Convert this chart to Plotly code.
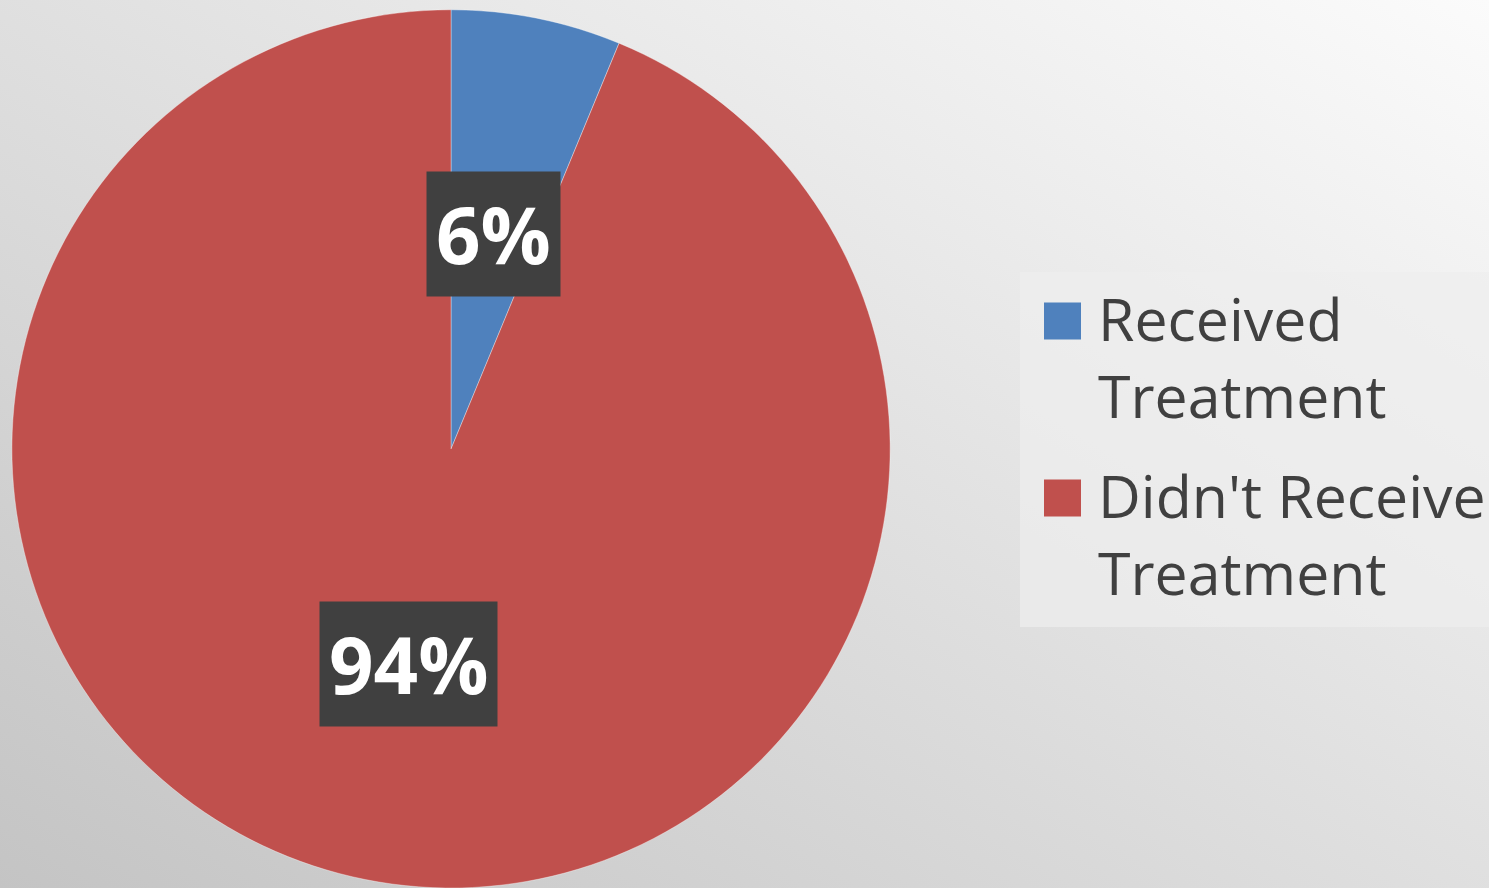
import math
import plotly.graph_objects as go

labels = ["Received<br>Treatment", "Didn't Receive<br>Treatment"]
values = [6.25, 93.75]
colors = ["#4F81BD", "#C0504D"]

W, H = 1489, 888
dom_x = [0.0074, 0.5984]
dom_y = [0.0, 0.989]

bg_svg = (
    "data:image/svg+xml;utf8,"
    "<svg xmlns='http://www.w3.org/2000/svg' width='100' height='100' preserveAspectRatio='none'>"
    "<defs><linearGradient id='g' x1='1' y1='0' x2='0' y2='1'>"
    "<stop offset='0' stop-color='%23fbfbfb'/><stop offset='1' stop-color='%23c4c4c4'/>"
    "</linearGradient></defs><rect width='100' height='100' fill='url(%23g)'/></svg>"
)

fig = go.Figure()
fig.add_trace(go.Pie(
    labels=labels, values=values, sort=False, direction="clockwise", rotation=0,
    marker=dict(colors=colors, line=dict(color="rgba(255,255,255,0.35)", width=1)),
    textinfo="none", hoverinfo="label+percent", showlegend=False,
    domain=dict(x=dom_x, y=dom_y),
))

# data labels placed at half radius along each slice's mid-angle
wpx = (dom_x[1] - dom_x[0]) * W
hpx = (dom_y[1] - dom_y[0]) * H
rpx = min(wpx, hpx) / 2
cxp = (dom_x[0] + dom_x[1]) / 2 * W
cyp = (dom_y[0] + dom_y[1]) / 2 * H
total = sum(values)
cum = 0
annotations = []
for v in values:
    mid = (cum + v / 2) / total * 2 * math.pi
    cum += v
    px = cxp + 0.5 * rpx * math.sin(mid)
    py = cyp + 0.5 * rpx * math.cos(mid)
    annotations.append(dict(
        x=px / W, y=py / H, xref="paper", yref="paper",
        xanchor="center", yanchor="middle",
        text="<b>%d%%</b>" % round(v / total * 100), showarrow=False,
        font=dict(family="Open Sans", size=78, color="white"),
        bgcolor="#404040", borderpad=9,
    ))

# legend (drawn manually for large swatches)
shapes = [dict(type="rect", xref="paper", yref="paper",
               x0=1020 / W, x1=1.0, y0=1 - 627 / H, y1=1 - 272 / H,
               fillcolor="rgba(238,238,238,0.7)", line=dict(width=0), layer="below")]
leg_top = 356
leg_step = 177
for i, (lab, col) in enumerate(zip(labels, colors)):
    yc = leg_top + i * leg_step
    sq_c = yc - 35
    shapes.append(dict(type="rect", xref="paper", yref="paper",
                       x0=1044 / W, x1=1081 / W,
                       y0=1 - (sq_c + 18.5) / H, y1=1 - (sq_c - 18.5) / H,
                       fillcolor=col, line=dict(width=0)))
    annotations.append(dict(
        x=1096 / W, y=1 - yc / H, xref="paper", yref="paper",
        xanchor="left", yanchor="middle", align="left", showarrow=False,
        text=lab, font=dict(family="Open Sans", size=59, color="#404040"),
    ))

fig.update_layout(
    width=W, height=H, margin=dict(l=0, r=0, t=0, b=0),
    paper_bgcolor="#e2e2e2", plot_bgcolor="#e2e2e2",
    images=[dict(source=bg_svg, xref="paper", yref="paper", x=0, y=1, sizex=1, sizey=1,
                 sizing="stretch", layer="below", xanchor="left", yanchor="top")],
    annotations=annotations,
    shapes=shapes,
    showlegend=False,
)
fig.write_html("out.html", config={"displayModeBar": False},
               post_script="document.body.style.margin='0';")
